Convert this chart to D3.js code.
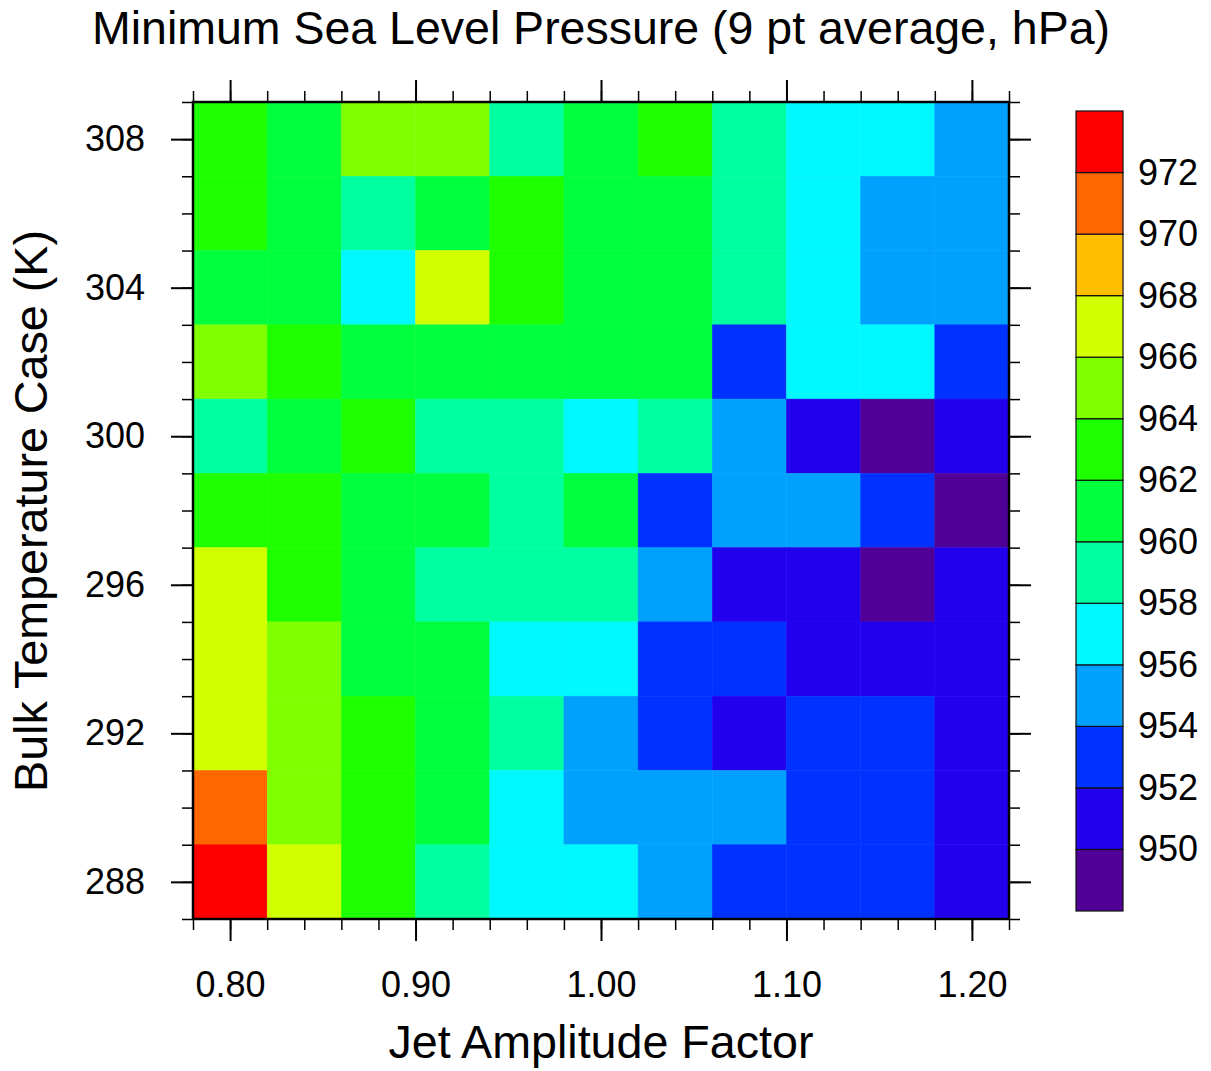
<!DOCTYPE html>
<html>
<head>
<meta charset="utf-8">
<script src="https://cdn.jsdelivr.net/npm/d3@7"></script>
<style>
body { margin: 0; background: #fff; }
text { font-family: "Liberation Sans", Arial, Helvetica, sans-serif; }
</style>
</head>
<body>
<div id="chart"></div>
<script>
var width = 1211
var height = 1071

////////////////////////////// DATA //////////////////////////////
var jetFactor = [0.80, 0.84, 0.88, 0.92, 0.96, 1.00, 1.04, 1.08, 1.12, 1.16, 1.20];
var bulkTemp = [308, 306, 304, 302, 300, 298, 296, 294, 292, 290, 288];

// one row per bulk temperature case (top = 308 K), one column per jet factor
var mslp = [
  [963, 961, 965, 965, 959, 961, 963, 959, 957, 957, 955],
  [963, 961, 959, 961, 963, 961, 961, 959, 957, 955, 955],
  [961, 961, 957, 967, 963, 961, 961, 959, 957, 955, 955],
  [965, 963, 961, 961, 961, 961, 961, 953, 957, 957, 953],
  [959, 961, 963, 959, 959, 957, 959, 955, 951, 949, 951],
  [963, 963, 961, 961, 959, 961, 953, 955, 955, 953, 949],
  [967, 963, 961, 959, 959, 959, 955, 951, 951, 949, 951],
  [967, 965, 961, 961, 957, 957, 953, 953, 951, 951, 951],
  [967, 965, 963, 961, 959, 955, 953, 951, 953, 953, 951],
  [971, 965, 963, 961, 957, 955, 955, 955, 953, 953, 951],
  [973, 967, 963, 959, 957, 957, 955, 953, 953, 953, 951]
];

var levels = [950, 952, 954, 956, 958, 960, 962, 964, 966, 968, 970, 972];
var levelColors = ['#500096', '#2200EE', '#0032FF', '#00A0FF', '#00F8FF', '#00FFA0',
                   '#00FF3C', '#1EFF00', '#80FF00', '#D2FF00', '#FFBE00', '#FF6600', '#FF0000'];

var xTicks = [0.80, 0.90, 1.00, 1.10, 1.20];
var yTicks = [288, 292, 296, 300, 304, 308];

////////////////////////////// SETUP //////////////////////////////
var svg = d3.select('#chart')
            .append('svg')
            .attr('width', width)
            .attr('height', height);

var plot = { left: 193, right: 1009, top: 102, bottom: 919 };

var x = d3.scaleLinear().domain([0.78, 1.22]).range([plot.left, plot.right]);
var y = d3.scaleLinear().domain([287, 309]).range([plot.bottom, plot.top]);
var color = d3.scaleThreshold().domain(levels).range(levelColors);

var xMinor = d3.range(39, 62).map(function(i){ return i / 50; });
var yMinor = d3.range(287, 310);

////////////////////////////// CELLS //////////////////////////////
var cells = [];
mslp.forEach(function(row, i){
    row.forEach(function(v, j){
        cells.push({ jet: jetFactor[j], temp: bulkTemp[i], value: v });
    });
});

svg.append('g')
   .selectAll('rect')
   .data(cells)
   .enter()
   .append('rect')
   .attr('x', function(d){ return x(d.jet - 0.02); })
   .attr('y', function(d){ return y(d.temp + 1); })
   .attr('width', function(d){ return x(d.jet + 0.02) - x(d.jet - 0.02); })
   .attr('height', function(d){ return y(d.temp - 1) - y(d.temp + 1); })
   .attr('fill', function(d){ return color(d.value); })
   .attr('stroke', function(d){ return color(d.value); })
   .attr('stroke-width', 0.5);

////////////////////////////// AXES //////////////////////////////
function addAxis(axis, transform, width) {
    var g = svg.append('g')
               .attr('transform', transform)
               .call(axis);
    g.select('.domain').remove();
    g.selectAll('line').attr('stroke', '#000').attr('stroke-width', width);
    g.selectAll('text')
     .attr('font-size', 36)
     .attr('font-family', '"Liberation Sans", Arial, Helvetica, sans-serif')
     .attr('fill', '#000');
    return g;
}

// bottom
addAxis(d3.axisBottom(x).tickValues(xMinor).tickSize(11).tickFormat(''), 'translate(0,' + plot.bottom + ')', 1.5);
addAxis(d3.axisBottom(x).tickValues(xTicks).tickSize(22).tickPadding(30).tickFormat(d3.format('.2f')),
        'translate(0,' + plot.bottom + ')', 2);
// top
addAxis(d3.axisTop(x).tickValues(xMinor).tickSize(11).tickFormat(''), 'translate(0,' + plot.top + ')', 1.5);
addAxis(d3.axisTop(x).tickValues(xTicks).tickSize(22).tickFormat(''), 'translate(0,' + plot.top + ')', 2);
// left
addAxis(d3.axisLeft(y).tickValues(yMinor).tickSize(11).tickFormat(''), 'translate(' + plot.left + ',0)', 1.5);
addAxis(d3.axisLeft(y).tickValues(yTicks).tickSize(22).tickPadding(26).tickFormat(d3.format('d')),
        'translate(' + plot.left + ',0)', 2);
// right
addAxis(d3.axisRight(y).tickValues(yMinor).tickSize(11).tickFormat(''), 'translate(' + plot.right + ',0)', 1.5);
addAxis(d3.axisRight(y).tickValues(yTicks).tickSize(22).tickFormat(''), 'translate(' + plot.right + ',0)', 2);

// frame
svg.append('rect')
   .attr('x', plot.left)
   .attr('y', plot.top)
   .attr('width', plot.right - plot.left)
   .attr('height', plot.bottom - plot.top)
   .attr('fill', 'none')
   .attr('stroke', '#000')
   .attr('stroke-width', 2.5);

////////////////////////////// TITLES //////////////////////////////
svg.append('text')
   .attr('x', 601)
   .attr('y', 44)
   .attr('text-anchor', 'middle')
   .attr('font-size', 46)
   .attr('textLength', 1018)
   .attr('lengthAdjust', 'spacingAndGlyphs')
   .text('Minimum Sea Level Pressure (9 pt average, hPa)');

svg.append('text')
   .attr('x', 601)
   .attr('y', 1058)
   .attr('text-anchor', 'middle')
   .attr('font-size', 46)
   .attr('textLength', 425)
   .attr('lengthAdjust', 'spacingAndGlyphs')
   .text('Jet Amplitude Factor');

svg.append('text')
   .attr('transform', 'translate(47,511) rotate(-90)')
   .attr('text-anchor', 'middle')
   .attr('font-size', 46)
   .attr('textLength', 562)
   .attr('lengthAdjust', 'spacingAndGlyphs')
   .text('Bulk Temperature Case (K)');

////////////////////////////// COLORBAR //////////////////////////////
var cb = { left: 1076, width: 47, top: 111, bottom: 911 };
var cbScale = d3.scaleLinear()
                .domain([levels[0] - 2, levels[levels.length - 1] + 2])
                .range([cb.bottom, cb.top]);

var boxes = levelColors.map(function(c, i){
    return { lo: levels[0] - 2 + 2 * i, color: c };
});

svg.append('g')
   .selectAll('rect')
   .data(boxes)
   .enter()
   .append('rect')
   .attr('x', cb.left)
   .attr('y', function(d){ return cbScale(d.lo + 2); })
   .attr('width', cb.width)
   .attr('height', function(d){ return cbScale(d.lo) - cbScale(d.lo + 2); })
   .attr('fill', function(d){ return d.color; })
   .attr('stroke', '#111')
   .attr('stroke-width', 1.2);

var cbAxis = addAxis(d3.axisRight(cbScale).tickValues(levels).tickSize(0).tickPadding(15).tickFormat(d3.format('d')),
                     'translate(' + (cb.left + cb.width) + ',0)', 0);
cbAxis.selectAll('line').remove();
</script>
</body>
</html>
